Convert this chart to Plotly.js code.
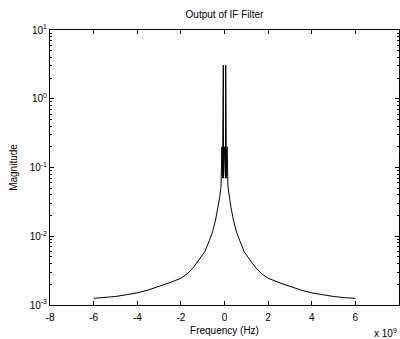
<!DOCTYPE html>
<html>
<head>
<meta charset="utf-8">
<script src="https://cdn.plot.ly/plotly-3.0.1.min.js"></script>
<style>html,body{margin:0;padding:0;background:#fff}#chart{width:400px;height:339px}</style>
</head>
<body>
<div id="chart"></div>
<script>
// Frequency in Hz, magnitude of IF filter output
const freqHz = [
  -6e9, -5.5e9, -5e9, -4.5e9, -4e9, -3.5e9, -3e9, -2.5e9, -2e9, -1.7e9, -1.4e9, -1.15e9, -0.9e9, -0.7e9,
  -0.55e9, -0.41e9, -0.3e9, -0.22e9, -0.16e9,
  -0.12e9, -0.09e9, -0.055e9, -0.045e9, 0, 0.045e9, 0.055e9, 0.09e9, 0.12e9,
  0.16e9, 0.22e9, 0.3e9, 0.41e9, 0.55e9,
  0.7e9, 0.9e9, 1.15e9, 1.4e9, 1.7e9, 2e9, 2.5e9, 3e9, 3.5e9, 4e9, 4.5e9, 5e9, 5.5e9, 6e9
];
const magnitude = [
  1.25e-3, 1.28e-3, 1.33e-3, 1.41e-3, 1.5e-3, 1.65e-3, 1.85e-3, 2.12e-3, 2.45e-3, 2.85e-3, 3.6e-3, 4.6e-3, 6.0e-3, 8.6e-3,
  1.15e-2, 1.72e-2, 2.6e-2, 3.7e-2, 5.2e-2,
  0.2, 0.07, 3.1, 0.07, 0.2, 0.07, 3.1, 0.07, 0.2,
  5.2e-2, 3.7e-2, 2.6e-2, 1.72e-2, 1.15e-2,
  8.6e-3, 6.0e-3, 4.6e-3, 3.6e-3, 2.85e-3, 2.45e-3, 2.12e-3, 1.85e-3, 1.65e-3, 1.5e-3, 1.41e-3, 1.33e-3, 1.28e-3, 1.25e-3
];
const xTickVals = [-8e9, -6e9, -4e9, -2e9, 0, 2e9, 4e9, 6e9, 8e9];
const xTickText = ['-8', '-6', '-4', '-2', '0', '2', '4', '6', '8'];
const yTickVals = [1e-3, 1e-2, 1e-1, 1, 10];
const yTickText = ['10<sup>-3</sup>', '10<sup>-2</sup>', '10<sup>-1</sup>', '10<sup>0</sup>', '10<sup>1</sup>'];

const font = {family: 'Liberation Sans, Arial, sans-serif', size: 10, color: '#000'};

Plotly.newPlot('chart', [{
  x: freqHz, y: magnitude, type: 'scatter', mode: 'lines',
  line: {color: '#000', width: 1}, hoverinfo: 'skip'
}], {
  width: 400, height: 339,
  margin: {l: 50, r: 1, t: 30, b: 34},
  paper_bgcolor: '#fff', plot_bgcolor: '#fff',
  font: font,
  showlegend: false,
  title: {text: 'Output of IF Filter', font: {family: font.family, size: 10, color: '#000'}, x: 0.5, xref: 'paper', y: 0.958, yanchor: 'middle'},
  xaxis: {
    range: [-8e9, 8e9], tickmode: 'array', tickvals: xTickVals, ticktext: xTickText,
    ticks: 'inside', ticklen: 4, tickcolor: '#000', showline: true, linecolor: '#000', linewidth: 1,
    mirror: 'ticks', showgrid: false, zeroline: false, tickfont: font, ticklabelstandoff: 3,
    title: {text: 'Frequency (Hz)', font: font, standoff: 4}
  },
  yaxis: {
    type: 'log', range: [-3, 1], tickmode: 'array', tickvals: yTickVals, ticktext: yTickText,
    ticks: 'inside', ticklen: 4, tickcolor: '#000', showline: true, linecolor: '#000', linewidth: 1,
    mirror: 'ticks', showgrid: false, zeroline: false, tickfont: font,
    minor: {ticks: 'inside', ticklen: 2, tickcolor: '#000', dtick: 'D1', showgrid: false},
    title: {text: 'Magnitude', font: font, standoff: 10}
  },
  annotations: [{
    text: 'x 10<sup>9</sup>', xref: 'paper', yref: 'paper', x: 1.0, y: -0.1,
    xanchor: 'right', yanchor: 'middle', showarrow: false, font: font
  }]
}, {staticPlot: true, displayModeBar: false});
</script>
</body>
</html>
